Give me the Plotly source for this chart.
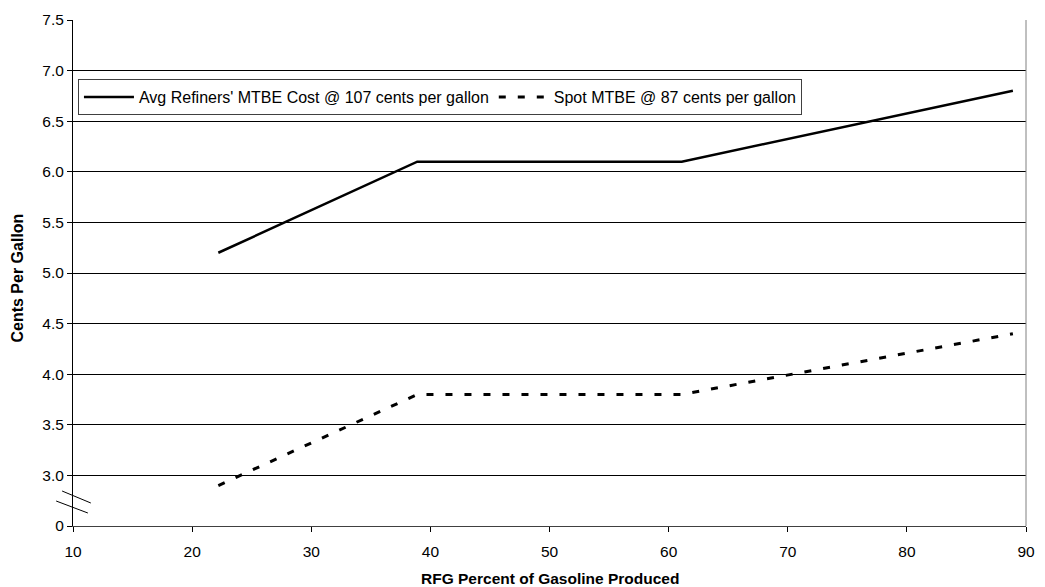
import plotly.graph_objects as go

# Data
rfg_pct = [22.2, 38.9, 61.1, 88.9]
avg_refiners = [5.2, 6.1, 6.1, 6.8]
spot_mtbe = [2.9, 3.8, 3.8, 4.4]
x_ticks = [10, 20, 30, 40, 50, 60, 70, 80, 90]
y_tickvals = [2.5, 3.0, 3.5, 4.0, 4.5, 5.0, 5.5, 6.0, 6.5, 7.0, 7.5]
y_ticktext = ["0", "3.0", "3.5", "4.0", "4.5", "5.0", "5.5", "6.0", "6.5", "7.0", "7.5"]

FONT = "Liberation Sans, Arial, sans-serif"

fig = go.Figure()
fig.add_trace(go.Scatter(
    x=rfg_pct, y=avg_refiners, mode="lines",
    name="Avg Refiners' MTBE Cost @ 107 cents per gallon",
    line=dict(color="black", width=2.5),
))
fig.add_trace(go.Scatter(
    x=rfg_pct, y=spot_mtbe, mode="lines",
    name="Spot MTBE @ 87 cents per gallon",
    line=dict(color="black", width=3, dash="7px,12px"),
))

L, R, T, B = 73, 10, 20, 61
W, H = 1045, 587
pw, ph = W - L - R, H - T - B

def px(x):
    return (x - L) / pw

def py(y):
    return (H - B - y) / ph

shapes = [
    # axis break marks
    dict(type="line", xref="paper", yref="paper",
         x0=px(62), y0=py(491), x1=px(91), y1=py(503),
         line=dict(color="black", width=1)),
    dict(type="line", xref="paper", yref="paper",
         x0=px(56), y0=py(501), x1=px(88), y1=py(513),
         line=dict(color="black", width=1)),
    # right border
    dict(type="line", xref="paper", yref="paper",
         x0=1, y0=0, x1=1, y1=1,
         line=dict(color="#808080", width=1)),
]

fig.update_layout(
    width=W, height=H,
    margin=dict(l=L, r=R, t=T, b=B),
    paper_bgcolor="white", plot_bgcolor="white",
    font=dict(family=FONT, size=15, color="black"),
    showlegend=True,
    legend=dict(
        orientation="h", x=px(78), y=py(79), xanchor="left", yanchor="top",
        bgcolor="white", bordercolor="#404040", borderwidth=1,
        font=dict(family=FONT, size=16, color="black"),
        itemwidth=50, tracegroupgap=0,
    ),
    shapes=shapes,
    xaxis=dict(
        range=[10, 90], tickvals=x_ticks, ticks="outside", ticklen=5,
        tickcolor="black", showline=True, linecolor="#404040", linewidth=1,
        showgrid=False, zeroline=False, ticklabelstandoff=6,
        tickfont=dict(family=FONT, size=15.5, color="black"),
    ),
    yaxis=dict(
        range=[2.5, 7.5], tickvals=y_tickvals, ticktext=y_ticktext,
        ticks="outside", ticklen=5, tickcolor="black",
        showline=True, linecolor="black", linewidth=1,
        showgrid=True, gridcolor="black", gridwidth=1, zeroline=False,
        tickfont=dict(family=FONT, size=15.5, color="black"),
    ),
    annotations=[
        dict(text="<b>RFG Percent of Gasoline Produced</b>", xref="paper", yref="paper",
             x=0.5, y=py(578), xanchor="center", yanchor="middle", showarrow=False,
             font=dict(family=FONT, size=15.5, color="black")),
        dict(text="<b>Cents Per Gallon</b>", xref="paper", yref="paper",
             x=px(17), y=py(278), xanchor="center", yanchor="middle", showarrow=False,
             textangle=-90, font=dict(family=FONT, size=16, color="black")),
    ],
)

fig.write_html("out.html")
